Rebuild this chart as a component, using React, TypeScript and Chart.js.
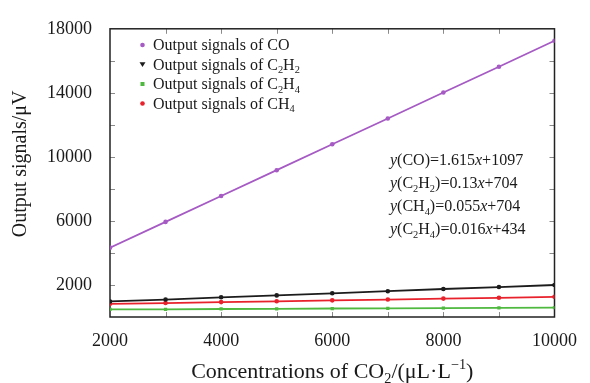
import React, { useEffect, useRef } from 'react';
import { Chart, registerables } from 'chart.js';
Chart.register(...registerables);

const FONT = "'Liberation Serif', 'Times New Roman', serif";

const concentrations = [2000, 3000, 4000, 5000, 6000, 7000, 8000, 9000, 10000];
const coSignal = [4330, 5940, 7560, 9170, 10790, 12400, 14020, 15630, 17250];
const c2h2Signal = [970, 1090, 1230, 1350, 1480, 1610, 1750, 1870, 2000];
const c2h4Signal = [470, 480, 500, 510, 530, 540, 560, 570, 590];
const ch4Signal = [820, 870, 930, 980, 1040, 1090, 1150, 1200, 1260];

const xLabelValues = [2000, 4000, 6000, 8000, 10000];
const yLabelValues = [2000, 6000, 10000, 14000, 18000];
const xMinorTicks = [3000, 4000, 5000, 6000, 7000, 8000, 9000];
const yMinorTicks = [2000, 4000, 6000, 8000, 10000, 12000, 14000, 16000];

type Part = [string, string]; // kind: n normal, i italic, b subscript, p superscript

const seriesColors = ['#a65ac4', '#1c1c1c', '#4fb83f', '#e8222c'];
const seriesMarkers = ['circle', 'triangleDown', 'rect', 'circle'];
const legendLabels: Part[][] = [
  [['Output signals of CO', 'n']],
  [['Output signals of C', 'n'], ['2', 'b'], ['H', 'n'], ['2', 'b']],
  [['Output signals of C', 'n'], ['2', 'b'], ['H', 'n'], ['4', 'b']],
  [['Output signals of CH', 'n'], ['4', 'b']],
];
const equations: Part[][] = [
  [['y', 'i'], ['(CO)=1.615', 'n'], ['x', 'i'], ['+1097', 'n']],
  [['y', 'i'], ['(C', 'n'], ['2', 'b'], ['H', 'n'], ['2', 'b'], [')=0.13', 'n'], ['x', 'i'], ['+704', 'n']],
  [['y', 'i'], ['(CH', 'n'], ['4', 'b'], [')=0.055', 'n'], ['x', 'i'], ['+704', 'n']],
  [['y', 'i'], ['(C', 'n'], ['2', 'b'], ['H', 'n'], ['4', 'b'], [')=0.016', 'n'], ['x', 'i'], ['+434', 'n']],
];
const yTitle = 'Output signals/\u03bcV';
const xTitle: Part[] = [['Concentrations of CO', 'n'], ['2', 'b'], ['/(\u03bcL\u00b7L', 'n'], ['\u22121', 'p'], [')', 'n']];

function drawRich(ctx: CanvasRenderingContext2D, parts: Part[], x: number, y: number, size: number, draw = true): number {
  let cx = x;
  for (const [t, k] of parts) {
    const s = k === 'b' || k === 'p' ? size * 0.65 : size;
    ctx.font = `${k === 'i' ? 'italic ' : ''}${s}px ${FONT}`;
    const dy = k === 'b' ? size * 0.22 : k === 'p' ? -size * 0.42 : 0;
    if (draw) ctx.fillText(t, cx, y + dy);
    cx += ctx.measureText(t).width;
  }
  return cx - x;
}

function drawMarker(ctx: CanvasRenderingContext2D, kind: string, x: number, y: number, color: string) {
  ctx.fillStyle = color;
  ctx.beginPath();
  if (kind === 'circle') {
    ctx.arc(x, y, 2.3, 0, Math.PI * 2);
  } else if (kind === 'triangleDown') {
    ctx.moveTo(x - 3, y - 2.2);
    ctx.lineTo(x + 3, y - 2.2);
    ctx.lineTo(x, y + 2.6);
    ctx.closePath();
  } else {
    ctx.rect(x - 2, y - 2, 4, 4);
  }
  ctx.fill();
}

const framePlugin = {
  id: 'frame',
  beforeDatasetsDraw(chart: any) {
    const { ctx, chartArea: a, scales } = chart;
    ctx.save();
    ctx.strokeStyle = '#8a8a8a';
    ctx.lineWidth = 1;
    for (const v of xMinorTicks) {
      const px = Math.round(scales.x.getPixelForValue(v)) + 0.5;
      ctx.beginPath();
      ctx.moveTo(px, a.bottom); ctx.lineTo(px, a.bottom - 5);
      ctx.moveTo(px, a.top); ctx.lineTo(px, a.top + 5);
      ctx.stroke();
    }
    for (const v of yMinorTicks) {
      const py = Math.round(scales.y.getPixelForValue(v)) + 0.5;
      ctx.beginPath();
      ctx.moveTo(a.left, py); ctx.lineTo(a.left + 5, py);
      ctx.moveTo(a.right, py); ctx.lineTo(a.right - 5, py);
      ctx.stroke();
    }
    ctx.strokeStyle = '#222';
    ctx.lineWidth = 1.5;
    ctx.strokeRect(a.left, a.top, a.right - a.left, a.bottom - a.top);
    ctx.restore();
  },
  afterDraw(chart: any) {
    const { ctx, chartArea: a } = chart;
    ctx.save();
    ctx.fillStyle = '#1a1a1a';
    ctx.textBaseline = 'alphabetic';
    ctx.textAlign = 'left';
    // legend
    legendLabels.forEach((parts, i) => {
      const cy = 45 + i * 19.5;
      drawMarker(ctx, seriesMarkers[i], a.left + 32.5, cy, seriesColors[i]);
      ctx.fillStyle = '#1a1a1a';
      drawRich(ctx, parts, a.left + 43, cy + 5, 16);
    });
    // equations
    equations.forEach((parts, i) => {
      ctx.fillStyle = '#1a1a1a';
      drawRich(ctx, parts, 390, 165 + i * 23, 16);
    });
    // y title
    ctx.save();
    ctx.translate(21, (a.top + a.bottom) / 2 - 9);
    ctx.rotate(-Math.PI / 2);
    ctx.font = `20px ${FONT}`;
    ctx.textAlign = 'center';
    ctx.textBaseline = 'middle';
    ctx.fillText(yTitle, 0, 0);
    ctx.restore();
    // x title
    ctx.textAlign = 'left';
    const w = drawRich(ctx, xTitle, 0, 0, 22, false);
    drawRich(ctx, xTitle, (a.left + a.right) / 2 - w / 2, 378, 22);
    ctx.restore();
  },
};

export default function App() {
  const ref = useRef<HTMLCanvasElement>(null);
  useEffect(() => {
    if (!ref.current) return;
    const mk = (data: number[], i: number) => ({
      data: concentrations.map((c, k) => ({ x: c, y: data[k] })),
      borderColor: seriesColors[i],
      backgroundColor: seriesColors[i],
      borderWidth: 1.8,
      pointRadius: 2.3,
      pointStyle: i === 2 ? 'rect' : 'circle',
      pointBorderWidth: 0,
      tension: 0,
    });
    const chart = new Chart(ref.current, {
      type: 'line',
      data: {
        datasets: [mk(coSignal, 0), mk(c2h2Signal, 1), mk(c2h4Signal, 2), mk(ch4Signal, 3)],
      },
      options: {
        animation: false,
        responsive: false,
        layout: { padding: { left: 0, top: 19, right: 31, bottom: 0 } },
        plugins: { legend: { display: false }, tooltip: { enabled: false } },
        scales: {
          x: {
            type: 'linear',
            min: 2000,
            max: 10000,
            grid: { display: false, drawTicks: false },
            border: { display: false },
            afterBuildTicks: (s: any) => { s.ticks = xLabelValues.map((v) => ({ value: v })); },
            afterFit: (s: any) => { s.height = 66; },
            ticks: {
              font: { family: FONT, size: 18 },
              color: '#1a1a1a',
              padding: 13,
              maxRotation: 0,
              autoSkip: false,
              callback: (v: any) => String(v),
            },
          },
          y: {
            type: 'linear',
            min: 0,
            max: 18000,
            grid: { display: false, drawTicks: false },
            border: { display: false },
            afterBuildTicks: (s: any) => { s.ticks = yLabelValues.map((v) => ({ value: v })); },
            afterFit: (s: any) => { s.width = 110; },
            ticks: {
              font: { family: FONT, size: 18 },
              color: '#1a1a1a',
              padding: 18,
              autoSkip: false,
              callback: (v: any) => String(v),
            },
          },
        },
      },
      plugins: [framePlugin],
    } as any);
    return () => chart.destroy();
  }, []);
  return (
    <div style={{ position: 'fixed', left: 0, top: 0, width: 590, height: 383, background: '#fff' }}>
      <canvas ref={ref} width={590} height={383} style={{ display: 'block' }} />
    </div>
  );
}
